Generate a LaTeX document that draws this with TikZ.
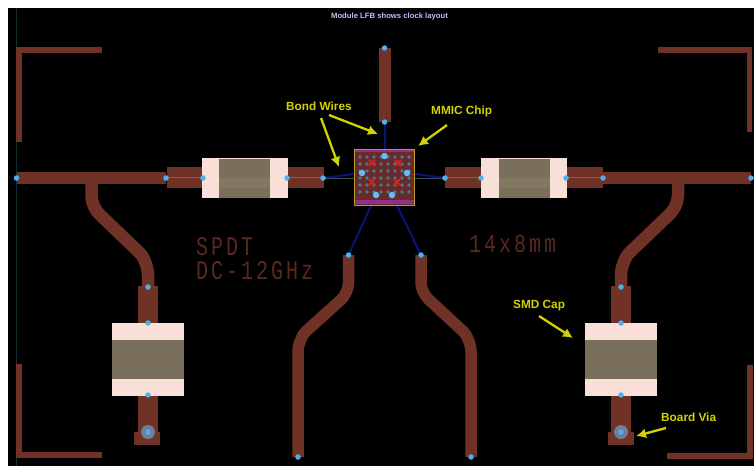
\documentclass[tikz,border=0pt]{standalone}
\usepackage{fontspec}
\setmainfont{Liberation Sans}
\newfontfamily\pcbmono[LetterSpace=15]{Liberation Mono}
\begin{document}
\begin{tikzpicture}[x=1pt,y=-1pt,
  trace/.style={draw=tracecol,line width=#1,line join=round},
  trace/.default=12pt,
  padbox/.style={fill=tracecol,draw=none,inner sep=0pt},
  capend/.style={fill=capwhite,draw=none,inner sep=0pt},
  capbody/.style={fill=capkhaki,draw=none,inner sep=0pt},
  pin/.style={circle,fill=pincol,draw=none,inner sep=0pt,minimum size=5.5pt},
  chippin/.style={circle,fill=pincol!85!white,draw=none,inner sep=0pt,minimum size=6.5pt},
  wire/.style={draw=wirecol,line width=2pt},
  callout/.style={font=\fontsize{11.8}{13}\selectfont\bfseries,text=calloutcol,inner sep=0pt},
  calloutarrow/.style={draw=calloutcol,line width=2.3pt,-{Latex[length=10pt,width=10pt]}},
  silk/.style={font=\pcbmono\fontsize{20}{20}\selectfont,text=silkcol,inner sep=0pt,anchor=west}
]
\usetikzlibrary{arrows.meta}
\definecolor{tracecol}{HTML}{703226}
\definecolor{capwhite}{HTML}{F8E0D8}
\definecolor{capkhaki}{HTML}{7A6F5A}
\definecolor{capband}{HTML}{827760}
\definecolor{pincol}{HTML}{4DB0F0}
\definecolor{wirecol}{HTML}{0A1478}
\definecolor{calloutcol}{HTML}{D2D200}
\definecolor{silkcol}{HTML}{5A281E}
\definecolor{chipfill}{HTML}{6A2A2C}
\definecolor{chipgold}{HTML}{B89A30}
\definecolor{chippurple}{HTML}{90308A}
\definecolor{chipdot}{HTML}{3F7F90}
\definecolor{chipred}{HTML}{D82020}
\definecolor{guidecol}{HTML}{12302F}
\definecolor{viacol}{HTML}{6F7F95}
\useasboundingbox (0,0) rectangle (754,466);
\fill[white] (0,0) rectangle (754,466);
\fill[black] (8,8) rectangle (754,466);
% guide line
\draw[guidecol,line width=1pt] (16.5,8) -- (16.5,466);
% corner brackets
\draw[trace=5.5pt,line join=miter] (102,50) -- (19,50) -- (19,142);
\draw[trace=5.5pt,line join=miter] (658,50) -- (749.5,50) -- (749.5,132);
\draw[trace=5.5pt,line join=miter] (19,364) -- (19,455) -- (102,455);
\draw[trace=5.5pt,line join=miter] (750,365) -- (750,456) -- (667,456);
% named pins
\coordinate (pL0) at (16.5,178);   \coordinate (pL1) at (166,178);
\coordinate (pL2) at (203,178);    \coordinate (pL3) at (287,178);
\coordinate (pL4) at (323,178);
\coordinate (pR4) at (445,178);    \coordinate (pR3) at (481,178);
\coordinate (pR2) at (566,178);    \coordinate (pR1) at (603,178);
\coordinate (pR0) at (751,178);
\coordinate (pT1) at (384.5,48);   \coordinate (pT2) at (384.5,122);
\coordinate (pBL1) at (348.5,255); \coordinate (pBL2) at (298,457);
\coordinate (pBR1) at (421,255);   \coordinate (pBR2) at (471,457);
\coordinate (cT) at (384.5,156);   \coordinate (cL) at (362,173);
\coordinate (cR) at (407,173);     \coordinate (cBL) at (376,195);
\coordinate (cBR) at (392,195);
% main lines
\draw[trace=12pt] (pL0) -- (pL1);
\draw[trace=12pt] (pR1) -- (pR0);
\draw[trace=12pt] (pT1) -- (pT2);
% bias stubs
\draw[trace=12.5pt,rounded corners=5pt] (91.5,180) -- (91.5,200) -- (96,211) -- (143,256) -- (148,270) -- (148,290);
\draw[trace=12.5pt,rounded corners=5pt] (678,180) -- (678,200) -- (673,211) -- (626,256) -- (621,270) -- (621,290);
% lower traces
\draw[trace=11.5pt,rounded corners=4pt] (pBL1) -- (348.5,287) -- (344,297) -- (303,334) -- (298,347) -- (pBL2);
\draw[trace=11.5pt,rounded corners=4pt] (pBR1) -- (421,287) -- (426,297) -- (466,334) -- (471,347) -- (pBR2);
% bond wires
\draw[wire] (pT2) -- (cT);
\draw[wire] (pL4) -- (cL);
\draw[wire] (pR4) -- (cR);
\draw[wire] (pBL1) -- (cBL);
\draw[wire] (pBR1) -- (cBR);
% series pads
\node[padbox,minimum width=36pt,minimum height=21pt] (padLa) at (185,177.5) {};
\node[padbox,minimum width=36pt,minimum height=21pt] (padLb) at (305.5,177.5) {};
\node[padbox,minimum width=36pt,minimum height=21pt] (padRa) at (463,177.5) {};
\node[padbox,minimum width=36pt,minimum height=21pt] (padRb) at (585,177.5) {};
\draw[tracecol!80!white,line width=1pt] (padLa.west) -- (padLa.east) (padLb.west) -- (padLb.east) (padRa.west) -- (padRa.east) (padRb.west) -- (padRb.east);
% series caps
\node[capend,minimum width=86pt,minimum height=40pt] (capL) at (245,178) {};
\node[capbody,minimum width=51pt,minimum height=39pt] (capLb) at (244.5,178) {};
\node[capend,minimum width=86pt,minimum height=40pt] (capR) at (524,178) {};
\node[capbody,minimum width=51pt,minimum height=39pt] (capRb) at (524.5,178) {};
\fill[capband] (219,178) rectangle (270,188);
\fill[capband] (499,178) rectangle (550,188);
% shunt pads and vias
\node[padbox,minimum width=20pt,minimum height=40pt] (padS1) at (148,306) {};
\node[padbox,minimum width=20pt,minimum height=40pt] (padS2) at (621,306) {};
\node[padbox,minimum width=20pt,minimum height=42pt] (padS3) at (148,414) {};
\node[padbox,minimum width=20pt,minimum height=42pt] (padS4) at (621,414) {};
\node[padbox,minimum width=26pt,minimum height=13pt] (viaPad1) at (147,438.5) {};
\node[padbox,minimum width=26pt,minimum height=13pt] (viaPad2) at (621,438.5) {};
\node[circle,fill=viacol,inner sep=0pt,minimum size=14pt] (via1) at (148,432) {};
\node[circle,fill=viacol,inner sep=0pt,minimum size=14pt] (via2) at (621,432) {};
% shunt caps
\node[capend,minimum width=72pt,minimum height=73pt] (capS1) at (148,359.5) {};
\node[capbody,minimum width=72pt,minimum height=39pt] (capS1b) at (148,359.5) {};
\node[capend,minimum width=72pt,minimum height=73pt] (capS2) at (621,359.5) {};
\node[capbody,minimum width=72pt,minimum height=39pt] (capS2b) at (621,359.5) {};
% chip
\draw[guidecol!60!gray,line width=1pt] (pL4) -- (pR4);
\node[fill=chipfill,draw=chipgold,line width=1.6pt,minimum width=60pt,minimum height=56pt,inner sep=0pt] (chip) at (384.5,177.5) {};
\fill[chippurple] (355,149.5) rectangle (414,152);
\fill[chippurple] (355,200) rectangle (414,204);
\foreach \cx in {360,367,374,381,388,395,402,409}
  \foreach \cy in {157,164,171,178,185,192}
    \fill[chipdot] (\cx,\cy) circle (1.9pt);
\foreach \cx/\cy in {372/163,398/163,372/182,397/182}{
  \draw[chipred,line width=2pt] (\cx-3,\cy-3) -- (\cx+3,\cy+3) (\cx-3,\cy+3) -- (\cx+3,\cy-3);
}
% pins
\foreach \p in {pL0,pL1,pL2,pL3,pL4,pR4,pR3,pR2,pR1,pR0,pT1,pT2,pBL1,pBL2,pBR1,pBR2}
  \node[pin] at (\p) {};
\foreach \q/\xx/\yy in {a/148/287,b/148/323,c/148/395,d/148/432,e/621/287,f/621/323,g/621/395,h/621/432}
  \node[pin] (s\q) at (\xx,\yy) {};
\foreach \p in {cT,cL,cR,cBL,cBR}
  \node[chippin] at (\p) {};
% silk text
\node[silk] (silkA) at (196,247) {\scalebox{1}[1.35]{SPDT}};
\node[silk] (silkB) at (196,271) {\scalebox{1}[1.35]{DC-12GHz}};
\node[silk] (silkC) at (469,244) {\scalebox{1}[1.3]{14x8mm}};
% title
\node[font=\fontsize{7.7}{8}\selectfont\bfseries,text=white!75!blue,inner sep=0pt] (title) at (389.5,16.5) {Module LFB shows clock layout};
% callouts
\node[callout,anchor=west] (lbBond) at (286,106) {Bond Wires};
\node[callout,anchor=west] (lbMmic) at (431,111) {MMIC Chip};
\node[callout,anchor=west] (lbSmd) at (513,306) {SMD Cap};
\node[callout,anchor=west] (lbVia) at (661,417) {Board Via};
\coordinate (a1s) at (329,115); \coordinate (a1e) at (378,134);
\coordinate (a2s) at (321,118); \coordinate (a2e) at (339,167);
\coordinate (a3s) at (447,125); \coordinate (a3e) at (418,146);
\coordinate (a4s) at (539,316); \coordinate (a4e) at (573,338);
\coordinate (a5s) at (666,428); \coordinate (a5e) at (636,436);
\draw[calloutarrow] (a1s) -- (a1e);
\draw[calloutarrow] (a2s) -- (a2e);
\draw[calloutarrow] (a3s) -- (a3e);
\draw[calloutarrow] (a4s) -- (a4e);
\draw[calloutarrow] (a5s) -- (a5e);
\end{tikzpicture}
\end{document}
